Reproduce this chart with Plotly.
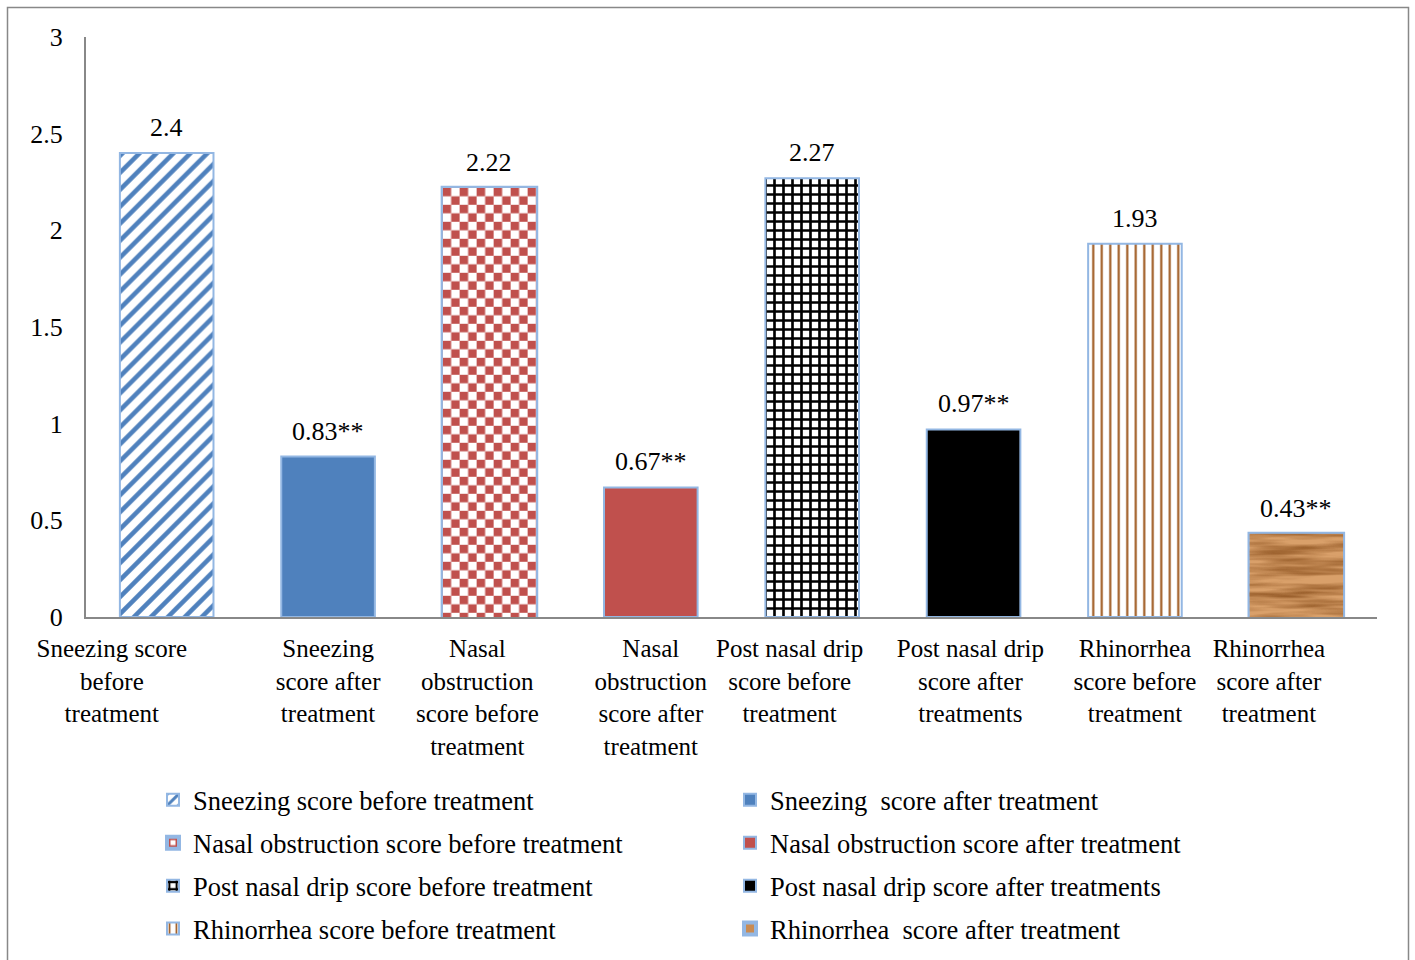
import base64
import plotly.graph_objects as go

# ---- data -------------------------------------------------------------
categories = [
    "Sneezing score<br>before<br>treatment",
    "Sneezing<br>score after<br>treatment",
    "Nasal<br>obstruction<br>score before<br>treatment",
    "Nasal<br>obstruction<br>score after<br>treatment",
    "Post nasal drip<br>score before<br>treatment",
    "Post nasal drip<br>score after<br>treatments",
    "Rhinorrhea<br>score before<br>treatment",
    "Rhinorrhea<br>score after<br>treatment",
]
series_names = [
    "Sneezing score before treatment",
    "Sneezing\u00a0 score after treatment",
    "Nasal obstruction score before treatment",
    "Nasal obstruction score after treatment",
    "Post nasal drip score before treatment",
    "Post nasal drip score after treatments",
    "Rhinorrhea score before treatment",
    "Rhinorrhea\u00a0 score after treatment",
]
scores = [2.4, 0.83, 2.22, 0.67, 2.27, 0.97, 1.93, 0.43]
significance = ["", "**", "", "**", "", "**", "", "**"]
y_ticks = [0, 0.5, 1, 1.5, 2, 2.5, 3]

# ---- layout constants -------------------------------------------------
W, H = 1415, 960
ML, MR, MT, MB = 86, 38, 37, 343
PW, PH = W - ML - MR, H - MT - MB
Y_MAX = 3
BAR_W = 0.58
FONT = "Liberation Serif"
OUTLINE = "#93B7E3"
AXIS = "#888888"

# horizontal nudges of the category labels (in category units)
label_nudge = [-0.34, 0, -0.075, 0, -0.14, -0.02, 0, -0.17]


def px_x(p):
    return (p - ML) / PW


def px_y(p):
    return (H - MB - p) / PH


def svg_uri(svg):
    return "data:image/svg+xml;base64," + base64.b64encode(svg.encode()).decode()


def checker_svg(w, h):
    return (
        f'<svg xmlns="http://www.w3.org/2000/svg" width="{w:.1f}" height="{h:.1f}" '
        f'viewBox="0 0 {w:.1f} {h:.1f}" preserveAspectRatio="none">'
        '<defs><pattern id="c" width="17" height="17" patternUnits="userSpaceOnUse">'
        '<rect width="17" height="17" fill="#ffffff"/>'
        '<rect width="8.5" height="8.5" fill="#C0504D"/>'
        '<rect x="8.5" y="8.5" width="8.5" height="8.5" fill="#C0504D"/>'
        '</pattern></defs><rect width="100%" height="100%" fill="url(#c)"/></svg>'
    )


def wood_svg(w, h):
    return (
        f'<svg xmlns="http://www.w3.org/2000/svg" width="{w:.1f}" height="{h:.1f}" '
        f'viewBox="0 0 {w:.1f} {h:.1f}" preserveAspectRatio="none">'
        '<filter id="g" x="0" y="0" width="100%" height="100%" '
        'color-interpolation-filters="sRGB">'
        '<feTurbulence type="fractalNoise" baseFrequency="0.01 0.12" numOctaves="3" seed="7"/>'
        '<feColorMatrix type="matrix" values="0 0 0 0 0.58  0 0 0 0 0.35  0 0 0 0 0.15  2.3 0 0 0 -0.9"/>'
        '<feGaussianBlur stdDeviation="0.6"/>'
        '</filter>'
        '<rect width="100%" height="100%" fill="#D9A06A"/>'
        '<rect width="100%" height="100%" filter="url(#g)"/></svg>'
    )


# marker styles per series
styles = [
    dict(color="white", pattern=dict(shape="/", fgcolor="#4F81BD", bgcolor="white",
                                     size=12, solidity=0.38, fillmode="replace")),
    dict(color="#4F81BD"),
    dict(color="#C0504D", pattern=dict(shape="+", fgcolor="#C0504D", bgcolor="white",
                                       size=10, solidity=0.6, fillmode="replace")),
    dict(color="#C0504D"),
    dict(color="white", pattern=dict(shape="+", fgcolor="black", bgcolor="white",
                                     size=9, solidity=0.5, fillmode="replace")),
    dict(color="black"),
    dict(color="white", pattern=dict(shape="|", fgcolor="#9E5A20", bgcolor="white",
                                     size=8.5, solidity=0.25, fillmode="replace")),
    dict(color="#C98B52"),
]
textures = {2: checker_svg, 7: wood_svg}

fig = go.Figure()
images = []
for i, (name, val) in enumerate(zip(series_names, scores)):
    lw = 4 if i in textures else 2
    fig.add_trace(go.Bar(
        x=[i], y=[val], name=name, width=BAR_W,
        marker=dict(line=dict(color=OUTLINE, width=lw), **styles[i]),
        legend="legend" if i % 2 == 0 else "legend2",
        legendgroup=f"g{i}",
        hoverinfo="skip",
    ))
    if i in textures:
        wpx = BAR_W * PW / len(scores)
        hpx = val * PH / Y_MAX
        images.append(dict(
            source=svg_uri(textures[i](wpx, hpx)),
            xref="x", yref="y", x=i, y=val, sizex=BAR_W, sizey=val,
            xanchor="center", yanchor="top", sizing="stretch", layer="above",
        ))

annotations = [
    dict(x=i, y=v, text=f"{v:g}{s}", showarrow=False, xanchor="center",
         yanchor="bottom", yshift=9, font=dict(family=FONT, size=26, color="black"))
    for i, (v, s) in enumerate(zip(scores, significance))
]

legend_common = dict(
    orientation="v", xanchor="left", yanchor="top",
    font=dict(family=FONT, size=26.5, color="black"),
    bgcolor="rgba(0,0,0,0)", tracegroupgap=5.5, itemclick=False,
)

fig.update_layout(
    width=W, height=H,
    margin=dict(l=ML, r=MR, t=MT, b=MB, autoexpand=False),
    paper_bgcolor="white", plot_bgcolor="white",
    barmode="overlay",
    font=dict(family=FONT, size=26, color="black"),
    xaxis=dict(
        range=[-0.5, len(scores) - 0.5],
        tickvals=[i + d for i, d in enumerate(label_nudge)],
        ticktext=categories, ticks="", showgrid=False, zeroline=False,
        showline=True, linecolor=AXIS, linewidth=2,
        tickfont=dict(family=FONT, size=25, color="black"),
        ticklabelstandoff=8,
    ),
    yaxis=dict(
        range=[0, Y_MAX], tickvals=y_ticks, ticks="", showgrid=False,
        zeroline=False, showline=True, linecolor=AXIS, linewidth=2,
        tickfont=dict(family=FONT, size=26, color="black"),
        ticklabelstandoff=16,
    ),
    legend=dict(x=px_x(153), y=px_y(776), **legend_common),
    legend2=dict(x=px_x(730), y=px_y(776), **legend_common),
    annotations=annotations,
    images=images,
    shapes=[dict(type="rect", xref="paper", yref="paper",
                 x0=px_x(7.5), x1=px_x(1408.5), y0=px_y(990), y1=px_y(7.5),
                 line=dict(color=AXIS, width=1.5), fillcolor="rgba(0,0,0,0)")],
)

fig.write_html("out.html")
